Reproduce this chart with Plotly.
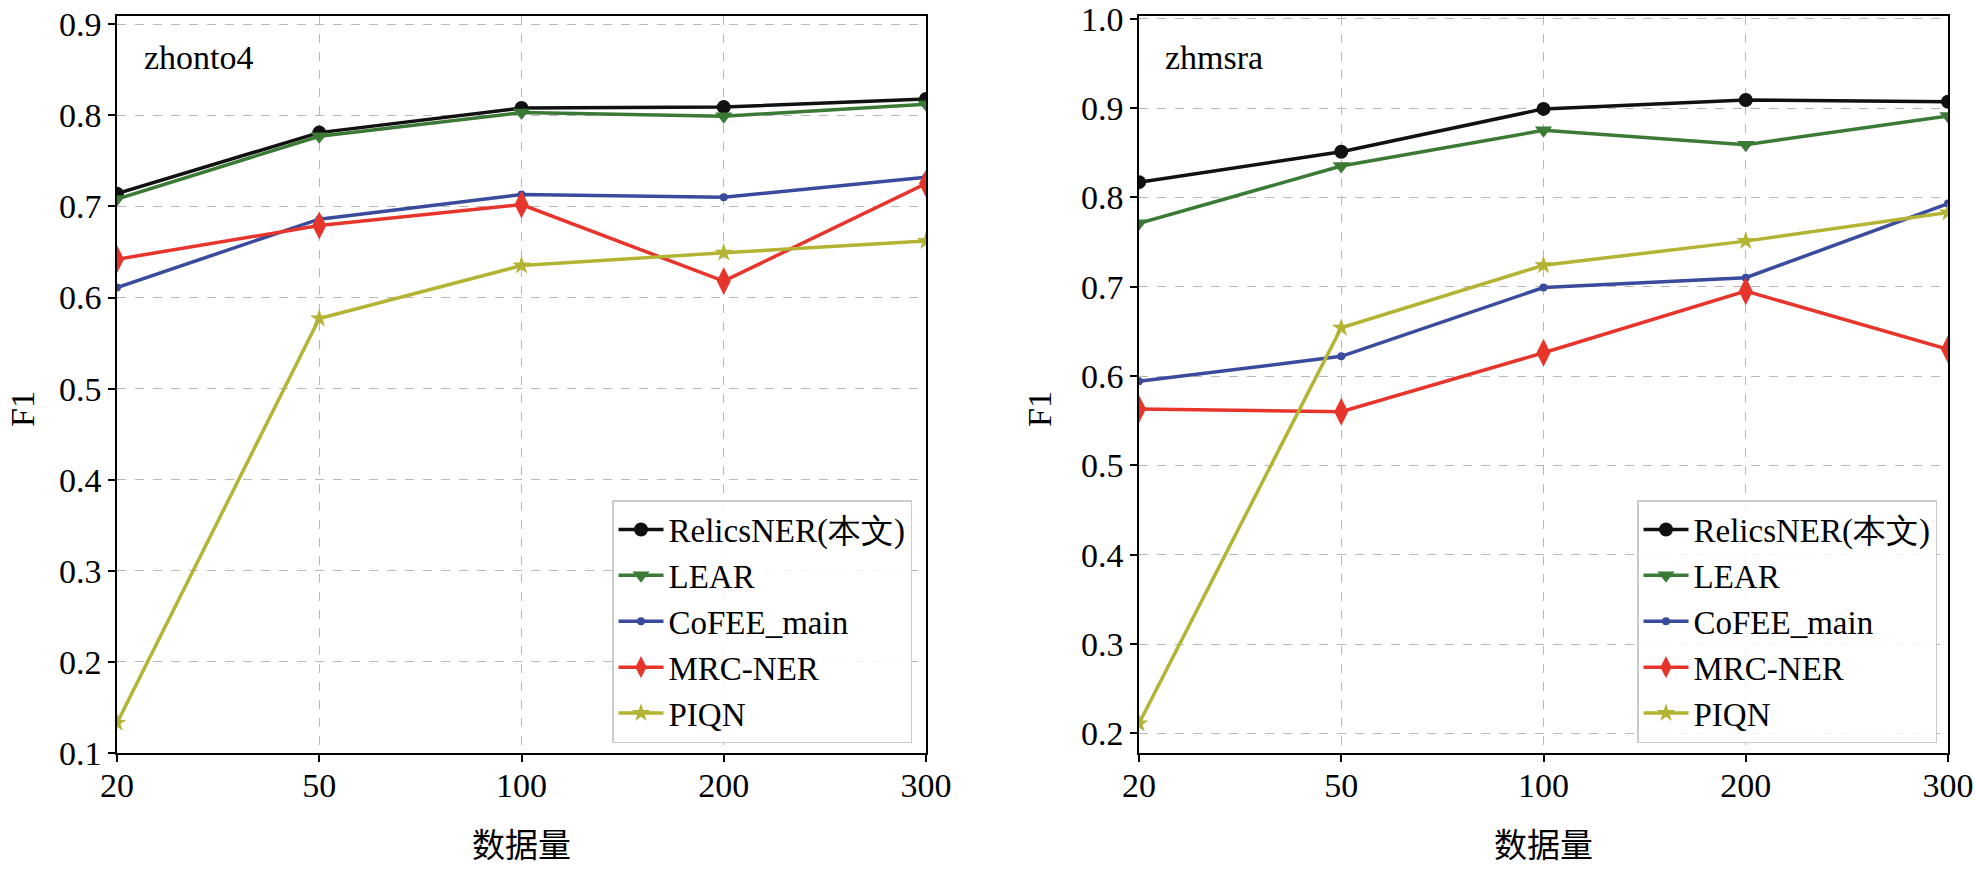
import plotly.graph_objects as go

x_labels = ["20", "50", "100", "200", "300"]

# zhonto4 (left)
ont_relics = [0.714, 0.781, 0.808, 0.809, 0.818]
ont_lear = [0.708, 0.777, 0.803, 0.799, 0.812]
ont_cofee = [0.611, 0.686, 0.713, 0.710, 0.732]
ont_mrc = [0.642, 0.679, 0.702, 0.618, 0.725]
ont_piqn = [0.133, 0.577, 0.635, 0.649, 0.662]

# zhmsra (right)
msra_relics = [0.817, 0.851, 0.899, 0.909, 0.907]
msra_lear = [0.771, 0.835, 0.875, 0.859, 0.891]
msra_cofee = [0.594, 0.622, 0.699, 0.710, 0.793]
msra_mrc = [0.563, 0.560, 0.626, 0.695, 0.630]
msra_piqn = [0.211, 0.654, 0.724, 0.751, 0.783]

names = ["RelicsNER(本文)", "LEAR", "CoFEE_main", "MRC-NER", "PIQN"]
colors = ["#111111", "#3b7a35", "#3a4a9c", "#e8352c", "#b3b334"]
symbols = ["circle", "triangle-down", "circle", "diamond-tall", "star"]
sizes = [14, 15, 8, 20, 14]

SERIF = "Liberation Serif, Times New Roman, serif"
CJK = "Noto Sans CJK SC"

fig = go.Figure()

left_series = [ont_relics, ont_lear, ont_cofee, ont_mrc, ont_piqn]
right_series = [msra_relics, msra_lear, msra_cofee, msra_mrc, msra_piqn]

for i, ys in enumerate(left_series):
    fig.add_trace(go.Scatter(
        x=x_labels, y=ys, name=names[i], mode="lines+markers",
        line=dict(color=colors[i], width=3.5),
        marker=dict(symbol=symbols[i], size=sizes[i], color=colors[i]),
        xaxis="x", yaxis="y", legend="legend",
    ))
for i, ys in enumerate(right_series):
    fig.add_trace(go.Scatter(
        x=x_labels, y=ys, name=names[i], mode="lines+markers",
        line=dict(color=colors[i], width=3.5),
        marker=dict(symbol=symbols[i], size=sizes[i], color=colors[i]),
        xaxis="x2", yaxis="y2", legend="legend2",
    ))

W, H = 1975, 870
# plot area in page pixels
L1, R1, L2, R2, TOP, BOT = 117, 926, 1139, 1948, 16, 753
ml = L1
mr = W - R2
mt = TOP
mb = H - BOT
pw = W - ml - mr
ph = H - mt - mb


def px_x(p):
    return (p - ml) / pw


def px_y(p):
    return (H - mb - p) / ph


axis_common = dict(
    showline=True, linecolor="black", linewidth=1.5, mirror=True,
    ticks="outside", ticklen=7, tickwidth=1.5, tickcolor="black",
    showgrid=True, gridcolor="#b8b8b8", griddash="dash", gridwidth=1,
    tickfont=dict(family=SERIF, size=34, color="black"),
    zeroline=False, automargin=False, ticklabeloverflow="allow",
)

legend_common = dict(
    font=dict(family=SERIF, size=33, color="black"),
    bgcolor="rgba(255,255,255,0.85)", bordercolor="#cccccc", borderwidth=1.5,
    xanchor="right", yanchor="bottom", itemwidth=45, tracegroupgap=0,
)

fig.update_layout(
    width=W, height=H,
    margin=dict(l=ml, r=mr, t=mt, b=mb, autoexpand=False),
    plot_bgcolor="white", paper_bgcolor="white",
    xaxis=dict(domain=[0, px_x(R1)], type="category", range=[0, 4], anchor="y",
               ticklabelstandoff=-6, **axis_common),
    yaxis=dict(range=[0.1, 0.909], dtick=0.1, tick0=0.1, tickformat=".1f", anchor="x", **axis_common),
    xaxis2=dict(domain=[px_x(L2), 1], type="category", range=[0, 4], anchor="y2",
                ticklabelstandoff=-6, **axis_common),
    yaxis2=dict(range=[0.178, 1.003], dtick=0.1, tick0=0.2, tickformat=".1f", anchor="x2", **axis_common),
    legend=dict(x=px_x(912), y=px_y(743), **legend_common),
    legend2=dict(x=px_x(1937), y=px_y(743), **legend_common),
    showlegend=True,
)

annots = [
    dict(text="zhonto4", x=px_x(143), y=px_y(58), xanchor="left", yanchor="middle",
         font=dict(family=SERIF, size=34, color="black")),
    dict(text="zhmsra", x=px_x(1164), y=px_y(58), xanchor="left", yanchor="middle",
         font=dict(family=SERIF, size=34, color="black")),
    dict(text="F1", x=px_x(22), y=px_y(409), xanchor="center", yanchor="middle", textangle=-90,
         font=dict(family=SERIF, size=34, color="black")),
    dict(text="F1", x=px_x(1039), y=px_y(409), xanchor="center", yanchor="middle", textangle=-90,
         font=dict(family=SERIF, size=34, color="black")),
    dict(text="数据量", x=px_x(521), y=px_y(843), xanchor="center", yanchor="middle",
         font=dict(family=CJK, size=33, color="black")),
    dict(text="数据量", x=px_x(1543), y=px_y(843), xanchor="center", yanchor="middle",
         font=dict(family=CJK, size=33, color="black")),
]
for a in annots:
    a.update(xref="paper", yref="paper", showarrow=False, borderpad=0)
fig.update_layout(annotations=annots)

fig.write_html("out.html", config={"displayModeBar": False},
               post_script="document.body.style.margin='0';")
